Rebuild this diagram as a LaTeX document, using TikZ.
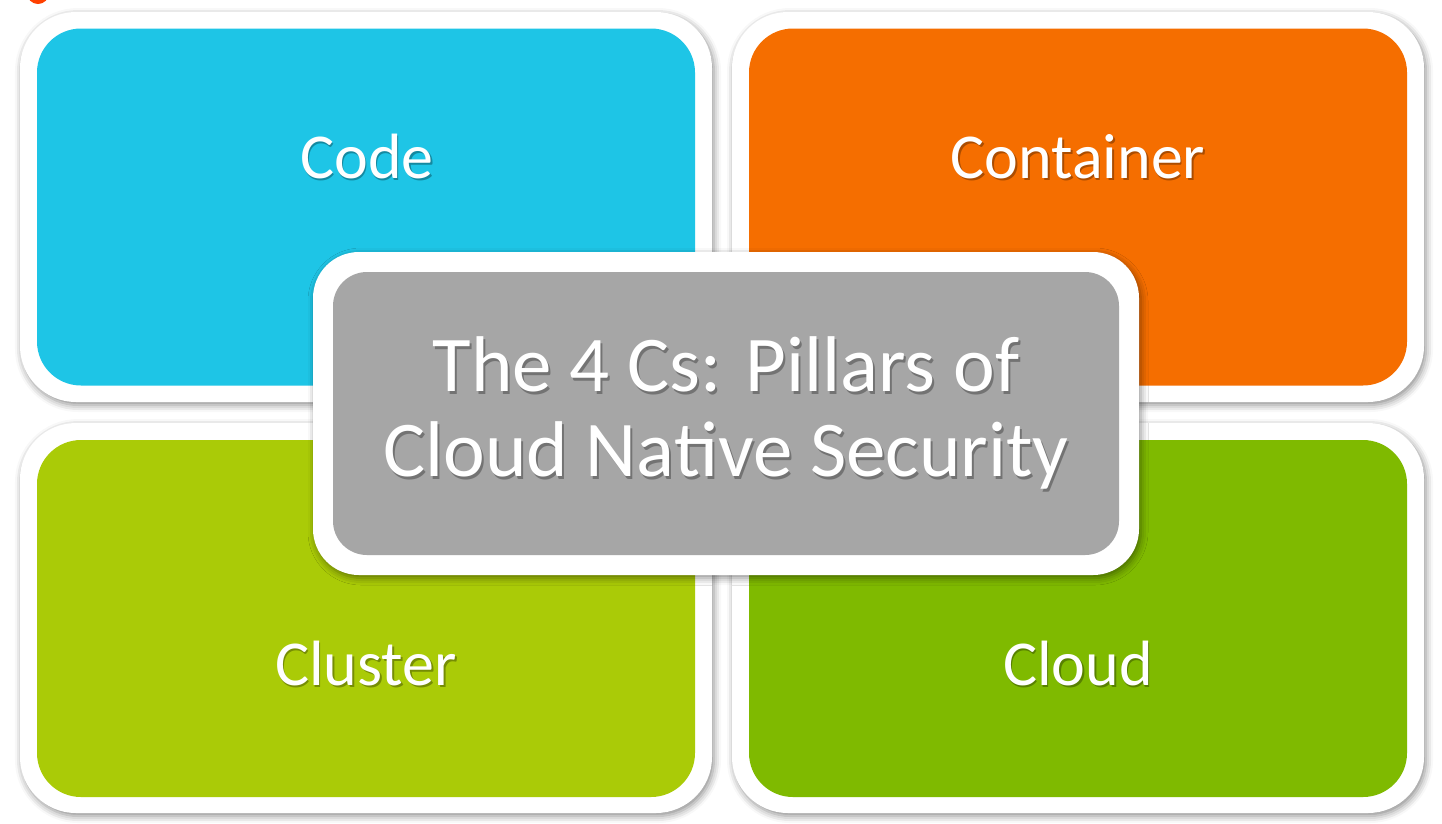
\documentclass[tikz,border=0pt]{standalone}
\usepackage{fontspec}
\setmainfont{Carlito}
\usetikzlibrary{shadows.blur}
\definecolor{cCode}{HTML}{1EC5E6}
\definecolor{cContainer}{HTML}{F56E00}
\definecolor{cCluster}{HTML}{AACB07}
\definecolor{cCloud}{HTML}{7FBA00}
\definecolor{cCenter}{HTML}{A6A6A6}
\definecolor{cDot}{HTML}{FF4000}
\tikzset{
  frame/.style={fill=white, draw=none, inner sep=0pt, rounded corners=56pt,
    blur shadow={shadow xshift=2pt, shadow yshift=-3pt, shadow blur radius=7pt, shadow opacity=45}},
  tile/.style={draw=none, inner sep=0pt, rounded corners=44pt, minimum width=658pt, minimum height=357pt},
  lbl/.style={text=white, inner sep=0pt, anchor=base, font=\fontsize{64}{70}\selectfont},
  lblsh/.style={text=black, opacity=0.3, inner sep=0pt, anchor=base, font=\fontsize{64}{70}\selectfont},
  biglbl/.style={text=white, inner sep=0pt, align=center, font=\fontsize{79}{85}\selectfont},
  biglblsh/.style={text=black, opacity=0.3, inner sep=0pt, align=center, font=\fontsize{79}{85}\selectfont},
}
\begin{document}
\begin{tikzpicture}[x=1pt,y=-1pt]
\useasboundingbox (0,0) rectangle (1442,823);
\begin{scope}
  \clip (0,0) rectangle (1442,823);
  \fill[cDot] (38,-7) circle (11);
\end{scope}
% frames
\node[frame, minimum width=692pt, minimum height=390pt] (codeF) at (366,207) {};
\node[frame, minimum width=692pt, minimum height=390pt] (containerF) at (1078,207) {};
\node[frame, minimum width=692pt, minimum height=390pt] (clusterF) at (366,618) {};
\node[frame, minimum width=692pt, minimum height=390pt] (cloudF) at (1078,618) {};
% tiles
\node[tile, fill=cCode] (code) at (366,207) {};
\node[tile, fill=cContainer] (container) at (1078,207) {};
\node[tile, fill=cCluster] (cluster) at (366,618.5) {};
\node[tile, fill=cCloud] (cloud) at (1078,618.5) {};
% labels
\node[lblsh] (codeS) at (368.5,180.5) {Code};
\node[lbl] (codeL) at (367,178) {Code};
\node[lblsh] (containerS) at (1079.5,180.5) {Container};
\node[lbl] (containerL) at (1078,178) {Container};
\node[lblsh] (clusterS) at (367.5,687.5) {Cluster};
\node[lbl] (clusterL) at (366,685) {Cluster};
\node[lblsh] (cloudS) at (1079.5,687.5) {Cloud};
\node[lbl] (cloudL) at (1078,685) {Cloud};
% center
\node[frame, rounded corners=46pt, minimum width=826pt, minimum height=323pt] (centerF) at (726,413.5) {};
\node[draw=none, fill=cCenter, inner sep=0pt, rounded corners=34pt, minimum width=786pt, minimum height=283pt] (center) at (726,413.5) {};
\node[biglblsh] (centerS) at (728,416) {The 4 Cs: Pillars of\\Cloud Native Security};
\node[biglbl] (centerL) at (726,413) {The 4 Cs: Pillars of\\Cloud Native Security};
\end{tikzpicture}
\end{document}
